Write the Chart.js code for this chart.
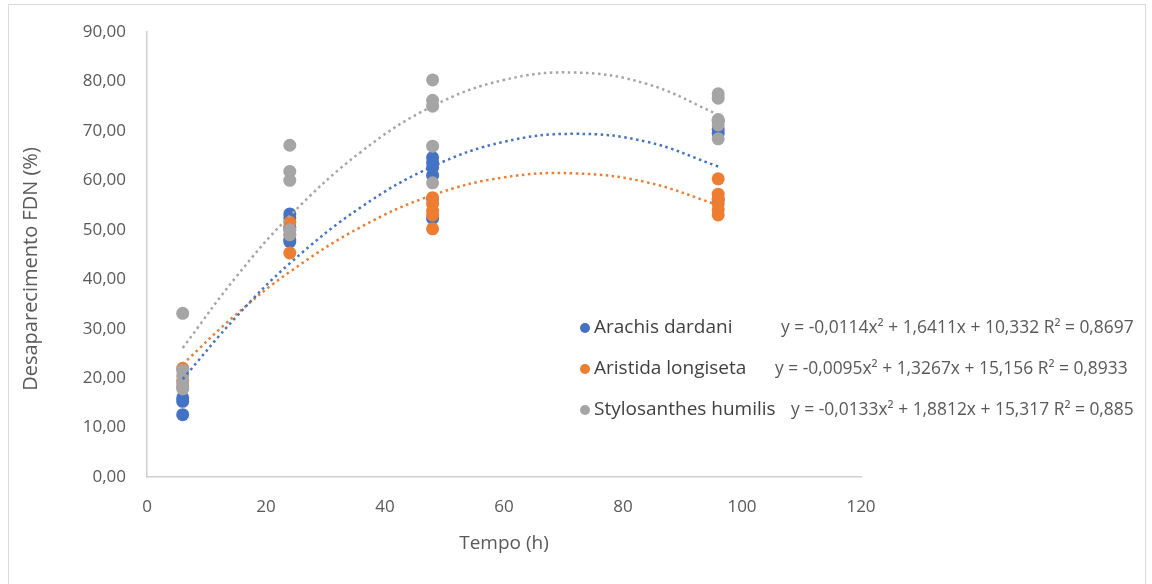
<!DOCTYPE html>
<html>
<head>
<meta charset="utf-8">
<script src="https://cdn.jsdelivr.net/npm/chart.js@4.4.0/dist/chart.umd.min.js"></script>
<style>
  body { margin: 0; background: #fff; }
  #wrap { width: 1152px; height: 584px; }
</style>
</head>
<body>
<div id="wrap"><canvas id="myChart" width="1152" height="584"></canvas></div>
<script>
// Tempos de incubação (h)
const tempos = [6, 24, 48, 96];

// Valores observados por tempo (%)
const arachis = [
  [12.6, 15.3, 16.0],
  [53.2, 52.4, 50.5, 48.0, 47.6],
  [64.6, 63.6, 62.6, 61.0, 56.2, 52.3],
  [72.0, 70.3, 69.5, 56.0]
];
const aristida = [
  [22.0, 19.5, 18.2],
  [51.5, 50.0, 49.0, 45.3],
  [56.5, 55.2, 53.8, 53.0, 50.2],
  [60.3, 57.2, 56.3, 55.2, 54.0, 53.0]
];
const stylosanthes = [
  [33.1, 21.6, 20.5, 19.0, 17.8],
  [67.1, 61.8, 60.0, 50.0, 49.0],
  [80.3, 76.2, 75.0, 66.9, 59.5],
  [77.5, 76.6, 72.3, 71.2, 68.4]
];

// Linhas de tendência (polinomial)
const trendX = [6, 15, 24, 36, 48, 60, 72, 84, 96];
const trendArachis = [19.8, 32.4, 43.2, 54.6, 62.8, 67.8, 69.4, 67.8, 62.8];
const trendAristida = [22.8, 32.9, 41.5, 50.6, 57.0, 60.6, 61.4, 59.6, 55.0];
const trendStylo = [26.1, 40.5, 52.8, 65.8, 75.0, 80.3, 81.8, 79.5, 73.3];

const nomes = ['Arachis dardani', 'Aristida longiseta', 'Stylosanthes humilis'];
const equacoes = [
  'y = -0,0114x² + 1,6411x + 10,332 R² = 0,8697',
  'y = -0,0095x² + 1,3267x + 15,156 R² = 0,8933',
  'y = -0,0133x² + 1,8812x + 15,317 R² = 0,885'
];
const cores = ['#4472C4', '#ED7D31', '#A5A5A5'];

// Ticks
const xTicks = [0, 20, 40, 60, 80, 100, 120];
const yTicks = [0, 10, 20, 30, 40, 50, 60, 70, 80, 90];

function pontos(series) {
  const out = [];
  series.forEach((vals, i) => vals.forEach(v => out.push({ x: tempos[i], y: v })));
  return out;
}
function linha(ys) {
  return trendX.map((x, i) => ({ x: x, y: ys[i] }));
}

const ctx = document.getElementById('myChart').getContext('2d');

// Legenda com equações, título do eixo y e borda externa
const extras = {
  id: 'extras',
  beforeDraw(chart) {
    const c = chart.ctx;
    c.save();
    c.strokeStyle = '#D9D9D9';
    c.lineWidth = 1;
    c.strokeRect(8.5, 4.5, 1137, 600);
    c.restore();
  },
  afterDraw(chart) {
    const c = chart.ctx;
    const legY = [328, 369, 410];
    const eqX = [781, 775, 791];
    c.save();
    c.textBaseline = 'middle';
    nomes.forEach((n, i) => {
      c.fillStyle = cores[i];
      c.beginPath();
      c.arc(585, legY[i], 5, 0, Math.PI * 2);
      c.fill();
      c.fillStyle = '#404040';
      c.font = '19px "Open Sans"';
      c.fillText(n, 594, legY[i]);
      c.fillStyle = '#595959';
      c.font = '17.4px "Open Sans"';
      c.fillText(equacoes[i], eqX[i], legY[i]);
    });
    // título do eixo y
    c.translate(31, 269);
    c.rotate(-Math.PI / 2);
    c.textAlign = 'center';
    c.fillStyle = '#595959';
    c.font = '20px "Open Sans"';
    c.fillText('Desaparecimento FDN (%)', 0, 0);
    c.restore();
  }
};

const trendStyle = {
  type: 'scatter',
  showLine: true,
  pointRadius: 0,
  borderWidth: 2.5,
  borderDash: [2.5, 3.5],
  tension: 0.4,
  fill: false
};

const chart = new Chart(ctx, {
  type: 'scatter',
  data: {
    datasets: [
      Object.assign({ label: 'trend ' + nomes[0], data: linha(trendArachis), borderColor: cores[0], order: 0 }, trendStyle),
      Object.assign({ label: 'trend ' + nomes[1], data: linha(trendAristida), borderColor: cores[1], order: 0 }, trendStyle),
      Object.assign({ label: 'trend ' + nomes[2], data: linha(trendStylo), borderColor: cores[2], order: 0 }, trendStyle),
      { label: nomes[2], data: pontos(stylosanthes), backgroundColor: cores[2], borderColor: cores[2], pointRadius: 6.5, borderWidth: 0, order: 1 },
      { label: nomes[1], data: pontos(aristida), backgroundColor: cores[1], borderColor: cores[1], pointRadius: 6.5, borderWidth: 0, order: 2 },
      { label: nomes[0], data: pontos(arachis), backgroundColor: cores[0], borderColor: cores[0], pointRadius: 6.5, borderWidth: 0, order: 3 }
    ]
  },
  options: {
    responsive: false,
    animation: false,
    layout: { padding: { left: 10, top: 32, right: 291, bottom: 0 } },
    plugins: { legend: { display: false }, tooltip: { enabled: false } },
    scales: {
      x: {
        type: 'linear',
        min: 0,
        max: 120,
        afterFit: s => { s.height = 107; },
        afterBuildTicks: s => { s.ticks = xTicks.map(v => ({ value: v })); },
        grid: { display: false, drawTicks: false },
        border: { display: true, color: '#D0D0D0', width: 1.5 },
        ticks: { color: '#595959', font: { family: 'Open Sans', size: 17 }, padding: 20 },
        title: { display: true, text: 'Tempo (h)', color: '#595959', font: { family: 'Open Sans', size: 19 }, padding: { bottom: 29 } }
      },
      y: {
        min: 0,
        max: 90,
        afterFit: s => { s.width = 137; },
        afterBuildTicks: s => { s.ticks = yTicks.map(v => ({ value: v })); },
        grid: { display: false, drawTicks: false },
        border: { display: true, color: '#D0D0D0', width: 1.5 },
        ticks: {
          color: '#595959',
          font: { family: 'Open Sans', size: 17 },
          padding: 21,
          callback: v => v.toFixed(2).replace('.', ',')
        },
        title: { display: false }
      }
    }
  },
  plugins: [extras]
});
</script>
</body>
</html>
